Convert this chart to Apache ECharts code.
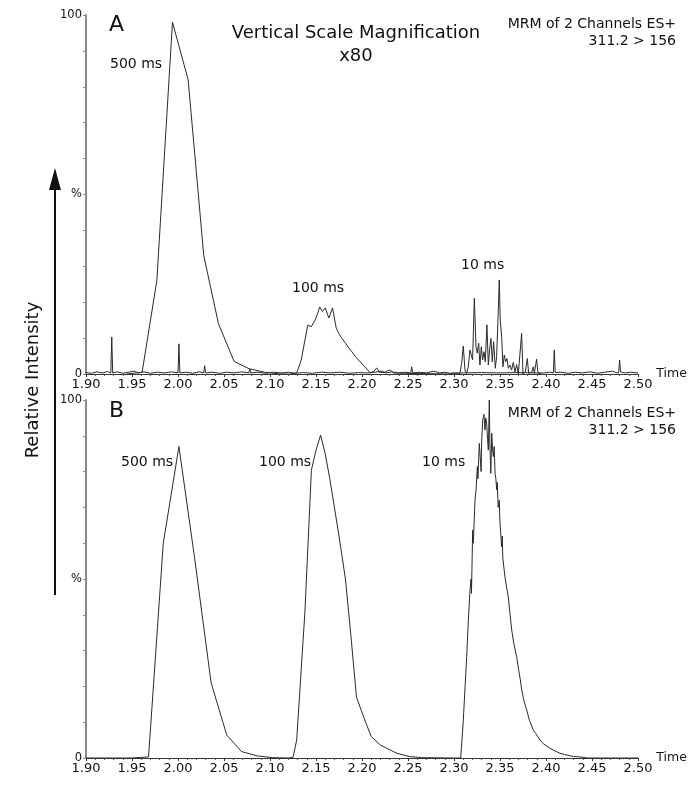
<!DOCTYPE html>
<html><head><meta charset="utf-8">
<script src="https://cdn.jsdelivr.net/npm/echarts@6/dist/echarts.min.js"></script>
<style>html,body{margin:0;padding:0;background:#fff}#c{width:700px;height:793px}</style>
</head><body><div id="c"></div>
<script>
// ---- data (time in min, relative intensity in %) ----
const xMin = 1.90, xMax = 2.50, xStep = 0.05;
const yLabelMap = {0: '0', 50: '%', 100: '100'};

const A_500 = [[1.944,0],[1.961,0.5],[1.977,26],[1.994,98],[2.011,82],[2.028,33],[2.044,14],[2.061,3.5],[2.077,1.5],[2.094,0.5],[2.111,0]];
const A_100 = [[2.122,0],[2.129,0.3],[2.134,3.9],[2.138,9.5],[2.141,13.6],[2.145,13.2],[2.149,15],[2.152,17],[2.154,18.7],[2.157,17.4],[2.160,18.4],[2.164,15.6],[2.168,18.4],[2.172,12.8],[2.175,11.2],[2.178,10],[2.182,8.6],[2.185,7.5],[2.189,6.2],[2.193,4.8],[2.198,3.4],[2.203,2.0],[2.209,0.3],[2.213,0.8],[2.216,1.7],[2.219,0.5],[2.224,0.4],[2.228,0.9],[2.231,1.1],[2.234,0.3],[2.245,0.2]];
const A_10 = [[2.295,0],[2.300,0.3],[2.3065,0.2],[2.3083,3.0],[2.3101,7.8],[2.3119,1.1],[2.3137,0.2],[2.3155,2.0],[2.3173,6.7],[2.3192,7.2],[2.3202,3.9],[2.3221,21.1],[2.3239,7.6],[2.3253,5.8],[2.3268,8.6],[2.3282,2.5],[2.3297,7.6],[2.3311,3.9],[2.3326,6.2],[2.3340,3.4],[2.3358,13.7],[2.3373,2.5],[2.3387,6.7],[2.3402,9.9],[2.3416,3.4],[2.3431,9.0],[2.3449,1.6],[2.3463,4.8],[2.3478,15.0],[2.3492,26.2],[2.3503,15.0],[2.3518,10.4],[2.3532,2.0],[2.3547,5.3],[2.3561,3.4],[2.3576,4.3],[2.3590,1.6],[2.3608,2.5],[2.3626,1.1],[2.3644,3.2],[2.3663,0.6],[2.3681,2.6],[2.3699,0],[2.3717,0.2],[2.3735,11.3],[2.3750,0],[2.3775,0.6],[2.3797,4.3],[2.3811,0.2],[2.3847,0.6],[2.3862,2.0],[2.3873,0.2],[2.3898,4.1],[2.3913,0.2],[2.395,0]];
const A_noise = [[1.900,0.4],[1.906,0.2],[1.912,0.6],[1.918,0.3],[1.923,0.7],[1.927,0.3],[1.928,10.3],[1.929,0.3],[1.934,0.6],[1.940,0.2],[1.946,0.5],[1.952,0.8],[1.957,0.3],[1.963,0.6],[1.970,0.2],[1.978,0.5],[1.985,0.3],[1.993,0.6],[2.000,0.3],[2.001,8.4],[2.002,0.3],[2.009,0.5],[2.016,0.2],[2.023,0.6],[2.028,0.3],[2.029,2.3],[2.030,0.3],[2.037,0.5],[2.045,0.2],[2.053,0.5],[2.061,0.3],[2.069,0.6],[2.077,0.3],[2.078,1.4],[2.079,0.3],[2.087,0.5],[2.095,0.2],[2.104,0.5],[2.112,0.3],[2.120,0.5],[2.128,0.2],[2.136,0.4],[2.146,0.2],[2.156,0.5],[2.166,0.3],[2.176,0.5],[2.186,0.2],[2.196,0.4],[2.206,0.3],[2.214,0.5],[2.222,0.8],[2.226,0.3],[2.233,0.6],[2.240,0.3],[2.247,0.5],[2.253,0.3],[2.254,2.0],[2.255,0.3],[2.262,0.5],[2.270,0.3],[2.278,0.8],[2.284,0.3],[2.290,0.5],[2.296,0.2],[2.310,0.3],[2.330,0.4],[2.350,0.3],[2.370,0.4],[2.390,0.3],[2.398,0.3],[2.404,0.5],[2.408,0.3],[2.409,6.7],[2.410,0.4],[2.416,0.5],[2.424,0.2],[2.432,0.5],[2.440,0.3],[2.448,0.6],[2.456,0.2],[2.464,0.5],[2.472,0.8],[2.476,0.4],[2.479,0.3],[2.480,3.9],[2.481,0.6],[2.486,0.3],[2.492,0.5],[2.500,0.3]];

const B_500 = [[1.900,0],[1.950,0],[1.968,0.3],[1.984,60],[2.001,87],[2.018,56],[2.036,21],[2.053,6.4],[2.069,1.8],[2.086,0.6],[2.103,0.1],[2.120,0]];
const B_100 = [[2.125,0.2],[2.129,5],[2.136,33],[2.138,41],[2.145,80.4],[2.150,86],[2.155,90.2],[2.160,85],[2.165,78],[2.175,62],[2.182,50],[2.188,34],[2.194,17],[2.203,10.6],[2.210,6],[2.220,3.6],[2.238,1.3],[2.252,0.4],[2.265,0.1],[2.300,0]];
const B_10 = [[2.3073,0],[2.310,10],[2.3138,28.3],[2.3155,38],[2.3174,46.9],[2.3185,50],[2.319,46],[2.3195,53],[2.3203,63.7],[2.321,60],[2.3228,72],[2.324,75],[2.3254,81.4],[2.326,78],[2.3275,87.9],[2.3285,84],[2.3295,80],[2.330,88],[2.3312,94.4],[2.3325,96],[2.3337,91.6],[2.3345,95],[2.3355,93.5],[2.3365,89],[2.3373,86],[2.3384,100],[2.339,88],[2.340,79.5],[2.341,90.7],[2.342,86],[2.3428,84.2],[2.3437,87],[2.3446,79.5],[2.3455,78],[2.3464,74.9],[2.347,77],[2.348,70],[2.3493,72],[2.3497,67],[2.350,65.6],[2.351,62],[2.3518,59],[2.3525,62],[2.353,56],[2.3554,50.6],[2.357,48],[2.359,45],[2.361,40],[2.3627,35.8],[2.365,32],[2.3681,28.3],[2.370,25],[2.372,22],[2.3736,19],[2.376,16],[2.379,13.4],[2.382,10.5],[2.3862,7.8],[2.389,6.8],[2.3935,5],[2.397,4],[2.4043,2.7],[2.408,2.2],[2.4152,1.3],[2.420,1.0],[2.4297,0.4],[2.437,0.3],[2.445,0],[2.500,0]];

const peakLabels = ['500 ms', '100 ms', '10 ms'];
const panelTitle = 'Vertical Scale Magnification';
const panelMag = 'x80';
const mrmLine1 = 'MRM of 2 Channels ES+';
const mrmLine2 = '311.2 > 156';
const yTitle = 'Relative Intensity';

// ---- chart ----
const FONT = '"DejaVu Sans", Verdana, sans-serif';
const chart = echarts.init(document.getElementById('c'));

function xAxis(gi) {
  return {
    type: 'value', gridIndex: gi, min: xMin, max: xMax, interval: xStep,
    name: 'Time', nameLocation: 'end', nameGap: 3,
    nameTextStyle: {fontFamily: FONT, fontSize: 12.5, color: '#111', padding: [0,0,3,0]},
    axisLine: {show: true, onZero: false, lineStyle: {color: '#333', width: 1}},
    axisTick: {show: true, length: 3, lineStyle: {color: '#333'}},
    minorTick: {show: true, splitNumber: 5, length: 2, lineStyle: {color: '#555'}},
    splitLine: {show: false},
    axisLabel: {fontFamily: FONT, fontSize: 13, color: '#111', margin: 4,
      formatter: v => v.toFixed(2)}
  };
}
function yAxis(gi) {
  return {
    type: 'value', gridIndex: gi, min: 0, max: 100, interval: 10,
    axisLine: {show: true, lineStyle: {color: '#8a8a8a', width: 2}},
    axisTick: {show: true, length: 3, lineStyle: {color: '#8a8a8a'}},
    splitLine: {show: false},
    axisLabel: {fontFamily: FONT, fontSize: 11.5, color: '#111', margin: 4,
      formatter: v => (yLabelMap[v] !== undefined ? yLabelMap[v] : '')}
  };
}
const lineSty = (w, c) => ({type: 'line', symbol: 'none', animation: false,
  lineStyle: {width: w, color: c}});

function txt(text, x, y, size, align, extra) {
  return Object.assign({type: 'text', x: x, y: y, silent: true,
    style: {text: text, fontFamily: FONT, fontSize: size, fill: '#111',
      align: align || 'left', verticalAlign: 'middle'}}, extra || {});
}

chart.setOption({
  animation: false,
  backgroundColor: '#fff',
  grid: [
    {left: 86, top: 15, width: 552, height: 359},
    {left: 86, top: 400, width: 552, height: 358}
  ],
  xAxis: [xAxis(0), xAxis(1)],
  yAxis: [yAxis(0), yAxis(1)],
  series: [
    Object.assign(lineSty(1, '#2a2a2a'), {xAxisIndex: 0, yAxisIndex: 0, data: A_noise}),
    Object.assign(lineSty(1, '#2a2a2a'), {xAxisIndex: 0, yAxisIndex: 0, data: A_500.concat(A_100, A_10)}),
    Object.assign(lineSty(1, '#2a2a2a'), {xAxisIndex: 1, yAxisIndex: 1, data: B_500.concat(B_100, B_10)})
  ],
  graphic: [
    txt('A', 109, 25, 22),
    txt('B', 109, 411, 22),
    txt(panelTitle, 356, 33, 18, 'center'),
    txt(panelMag, 356, 56, 18, 'center'),
    txt(mrmLine1, 676, 24, 14, 'right'),
    txt(mrmLine2, 676, 41, 14, 'right'),
    txt(mrmLine1, 676, 413, 14, 'right'),
    txt(mrmLine2, 676, 430, 14, 'right'),
    txt(peakLabels[0], 110, 64, 14),
    txt(peakLabels[1], 292, 288, 14),
    txt(peakLabels[2], 461, 265, 14),
    txt(peakLabels[0], 121, 462, 14),
    txt(peakLabels[1], 259, 462, 14),
    txt(peakLabels[2], 422, 462, 14),
    txt(yTitle, 33, 380, 18, 'center', {rotation: Math.PI / 2}),
    {type: 'line', silent: true, shape: {x1: 55, y1: 595, x2: 55, y2: 186},
      style: {stroke: '#111', lineWidth: 2}},
    {type: 'polygon', silent: true, shape: {points: [[55, 168], [49, 190], [61, 190]]},
      style: {fill: '#111'}}
  ]
});
</script></body></html>
